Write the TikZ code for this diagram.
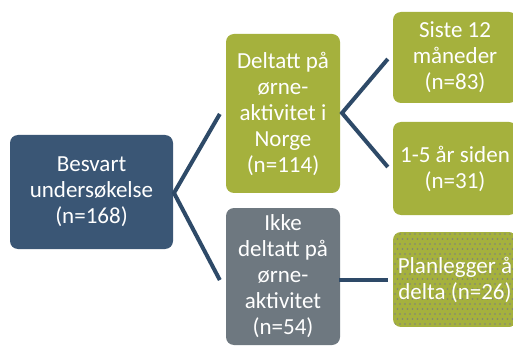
\documentclass[tikz,border=0pt]{standalone}
\usepackage{fontspec}
\setmainfont{Carlito}
\definecolor{rootblue}{HTML}{3A5675}
\definecolor{olive}{HTML}{A5B13D}
\definecolor{greybox}{HTML}{6E7880}
\definecolor{conn}{HTML}{2E4A68}
\definecolor{dotgrey}{HTML}{7F8080}
\begin{document}
\begin{tikzpicture}[x=1pt,y=-1pt,
  box/.style={rounded corners=8pt, inner sep=0pt, text=white, align=center,
    font=\fontsize{23}{26}\selectfont},
  connline/.style={draw=conn, line width=4pt, line join=miter}]
\useasboundingbox (0,0) rectangle (513,347);
\clip (0,0) rectangle (513,347);
\fill[white] (0,0) rectangle (513,347);
% boxes
\node[box, fill=rootblue, minimum width=163pt, minimum height=114pt] (root) at (91.5,192) {Besvart\\undersøkelse\\(n=168)};
\node[box, fill=olive, minimum width=114pt, minimum height=159pt] (deltatt) at (283,113.5) {Deltatt på\\ørne-\\aktivitet i\\Norge\\(n=114)};
\node[box, fill=greybox, minimum width=114pt, minimum height=137pt] (ikke) at (283,276.5) {Ikke\\deltatt på\\ørne-\\aktivitet\\(n=54)};
\node[box, fill=olive, minimum width=124pt, minimum height=91pt] (siste) at (455,57.5) {Siste 12\\måneder\\(n=83)};
\node[box, fill=olive, minimum width=124pt, minimum height=93pt] (aar) at (455,168.5) {1-5 år siden\\(n=31)};
% patterned box
\begin{scope}
  \clip[rounded corners=8pt] (393,232) rectangle (517,327);
  \fill[olive] (393,232) rectangle (517,327);
  \foreach \r in {0,...,19} {
    \foreach \c in {0,...,26} {
      \pgfmathsetmacro{\xx}{393+2+\c*5+mod(\r,2)*2.5}
      \pgfmathsetmacro{\yy}{232+2+\r*5}
      \fill[dotgrey] (\xx,\yy) circle (0.85pt);
    }
  }
\end{scope}
\node[box, minimum width=124pt, minimum height=95pt] (plan) at (455,279.5) {Planlegger å\\delta (n=26)};
% connectors
\coordinate (v1) at (174,193);
\coordinate (v2) at (342,113);
\draw[connline] ([xshift=-6pt]deltatt.west |- 0,114) -- (v1) -- ([xshift=-6pt]ikke.west |- 0,280);
\draw[connline] ([xshift=-5pt]siste.west |- 0,59) -- (v2) -- ([xshift=-5pt]aar.west |- 0,167);
\draw[connline] ([xshift=-1pt]ikke.east |- 0,280) -- ([xshift=-5pt]plan.west |- 0,280);
\end{tikzpicture}
\end{document}
